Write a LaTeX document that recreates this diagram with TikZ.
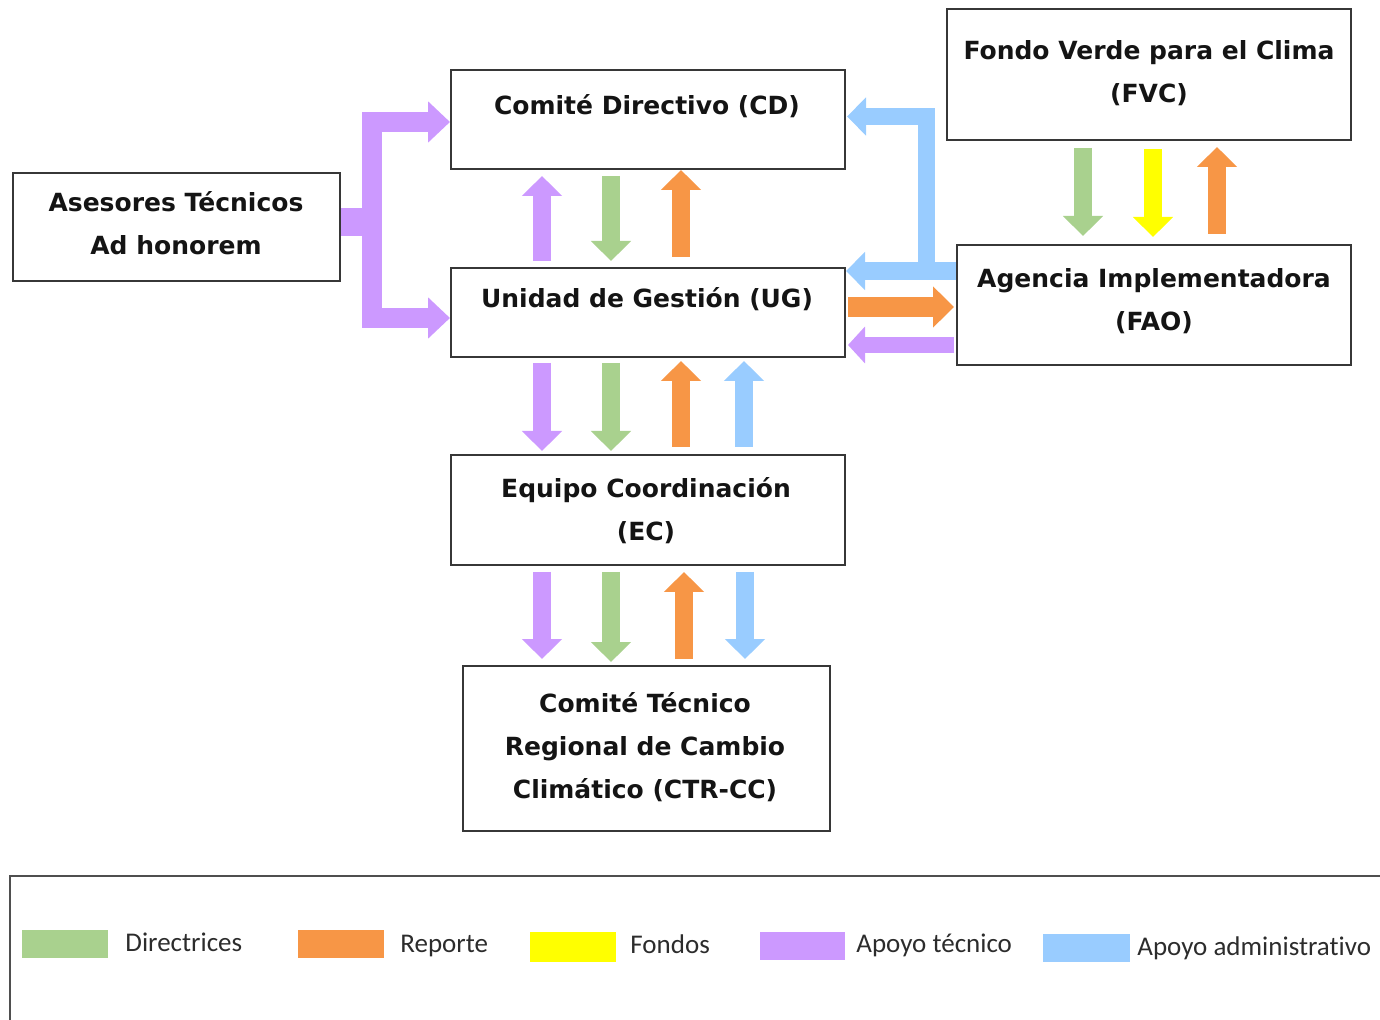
\documentclass[tikz,border=0pt]{standalone}
\usepackage{fontspec}
\setmainfont{DejaVu Sans}
\newfontfamily\legfont[Ligatures=CommonOff]{Carlito}
\usetikzlibrary{arrows.meta}
\definecolor{cgreen}{HTML}{A9D18E}
\definecolor{corange}{HTML}{F79646}
\definecolor{cyellow}{HTML}{FFFF00}
\definecolor{cpurple}{HTML}{CC99FF}
\definecolor{cblue}{HTML}{99CCFF}
\definecolor{ink}{HTML}{141414}
\tikzset{
  boxnode/.style={draw=ink!85, line width=1pt, inner sep=0pt},
  lbl/.style={font=\bfseries\fontsize{12.5}{21.5}\selectfont, text=ink, align=center, inner sep=0pt},
  legtxt/.style={font=\legfont\fontsize{13.5}{16}\selectfont, text=ink!90, anchor=west, inner sep=0pt},
  varr/.style={line width=9pt, -{Triangle[width=19.5pt,length=10pt]}, shorten <=3pt, shorten >=3pt},
  harr/.style={line width=10pt, -{Triangle[width=20pt,length=10.5pt]}, shorten <=1pt, shorten >=1pt},
  thinharr/.style={line width=8pt, -{Triangle[width=18pt,length=8.5pt]}, shorten <=1pt, shorten >=1pt},
  bluearr/.style={line width=8.75pt, line join=miter, -{Triangle[width=18.5pt,length=9.5pt]}, cblue},
}
\begin{document}
\begin{tikzpicture}[x=0.5pt,y=-0.5pt]
\useasboundingbox (0,0) rectangle (1380,1020);
% boxes
\node[boxnode, minimum width=163.5pt, minimum height=54pt] (AS) at (176.5,227) {};
\node[boxnode, minimum width=197pt, minimum height=49.5pt] (CD) at (648,119.5) {};
\node[boxnode, minimum width=197pt, minimum height=44.5pt] (UG) at (648,312.5) {};
\node[boxnode, minimum width=197pt, minimum height=55pt] (EC) at (648,510) {};
\node[boxnode, minimum width=183.5pt, minimum height=82.5pt] (CT) at (646.5,748.5) {};
\node[boxnode, minimum width=202pt, minimum height=65.5pt] (FV) at (1149,74.5) {};
\node[boxnode, minimum width=197pt, minimum height=60pt] (FA) at (1154,305) {};
% labels
\node[lbl] (ASt) at (176,223) {Asesores Técnicos\\Ad honorem};
\node[lbl] (CDt) at (647,106.5) {Comité Directivo (CD)};
\node[lbl] (UGt) at (647,299.5) {Unidad de Gestión (UG)};
\node[lbl] (ECt) at (646,510.5) {Equipo Coordinación\\(EC)};
\node[lbl] (CTt) at (645,747) {Comité Técnico\\Regional de Cambio\\Climático (CTR-CC)};
\node[lbl] (FVt) at (1149,73.5) {Fondo Verde para el Clima\\(FVC)};
\node[lbl] (FAt) at (1154,301.5) {Agencia Implementadora\\(FAO)};
% purple bracket from advisors
\draw[cpurple, line width=14pt] (AS.east |- 0,222) -- (372,222);
\draw[cpurple, line width=10pt, line join=miter,
  {Triangle[width=20pt,length=11pt]}-{Triangle[width=20pt,length=11pt]}]
  (CD.west |- 0,122) -- (372,122) -- (372,318) -- (UG.west |- 0,318);
% blue bracket from FAO
\draw[bluearr] (FA.west |- 0,271) -- (UG.east |- 0,271);
\draw[bluearr, shorten >=0.5pt] (926.5,280) -- (926.5,116.5) -- (CD.east |- 0,116.5);
% FAO <-> UG
\draw[harr, corange] (UG.east |- 0,307) -- (FA.west |- 0,307);
\draw[thinharr, cpurple] (FA.west |- 0,345) -- (UG.east |- 0,345);
% CD <-> UG
\draw[varr, cpurple] (542,0 |- UG.north) -- (542,0 |- CD.south);
\draw[varr, cgreen] (611,0 |- CD.south) -- (611,0 |- UG.north);
\draw[varr, corange, shorten >=0pt, shorten <=5pt] (681,0 |- UG.north) -- (681,0 |- CD.south);
% UG <-> EC
\draw[varr, cpurple, shorten <=2.5pt, shorten >=1.5pt] (542,0 |- UG.south) -- (542,0 |- EC.north);
\draw[varr, cgreen, shorten <=2.5pt, shorten >=1.5pt] (611,0 |- UG.south) -- (611,0 |- EC.north);
\draw[varr, corange, shorten <=3.5pt, shorten >=1.5pt] (681,0 |- EC.north) -- (681,0 |- UG.south);
\draw[varr, cblue, shorten <=3.5pt, shorten >=1.5pt] (744,0 |- EC.north) -- (744,0 |- UG.south);
% EC <-> CT
\draw[varr, cpurple] (542,0 |- EC.south) -- (542,0 |- CT.north);
\draw[varr, cgreen, shorten >=1.5pt] (611,0 |- EC.south) -- (611,0 |- CT.north);
\draw[varr, corange] (684,0 |- CT.north) -- (684,0 |- EC.south);
\draw[varr, cblue] (745,0 |- EC.south) -- (745,0 |- CT.north);
% FVC <-> FAO
\draw[varr, cgreen, shorten <=3.5pt, shorten >=4pt] (1083,0 |- FV.south) -- (1083,0 |- FA.north);
\draw[varr, cyellow, shorten <=4pt, shorten >=3.5pt] (1153,0 |- FV.south) -- (1153,0 |- FA.north);
\draw[varr, corange, shorten <=5pt, shorten >=3pt] (1217,0 |- FA.north) -- (1217,0 |- FV.south);
% legend
\draw[ink!75, line width=1pt] (10,1022) -- (10,876) -- (1382,876);
\fill[cgreen] (22,930) rectangle (108,958);
\fill[corange] (298,930) rectangle (384,958);
\fill[cyellow] (530,932) rectangle (616,962);
\fill[cpurple] (760,932) rectangle (845,960);
\fill[cblue] (1043,934) rectangle (1130,962);
\node[legtxt] (L1) at (125,942) {Directrices};
\node[legtxt] (L2) at (400,946) {Reporte};
\node[legtxt] (L3) at (630,944) {Fondos};
\node[legtxt] (L4) at (856,945) {Apoyo técnico};
\node[legtxt] (L5) at (1137,948) {Apoyo administrativo};
\end{tikzpicture}
\end{document}
